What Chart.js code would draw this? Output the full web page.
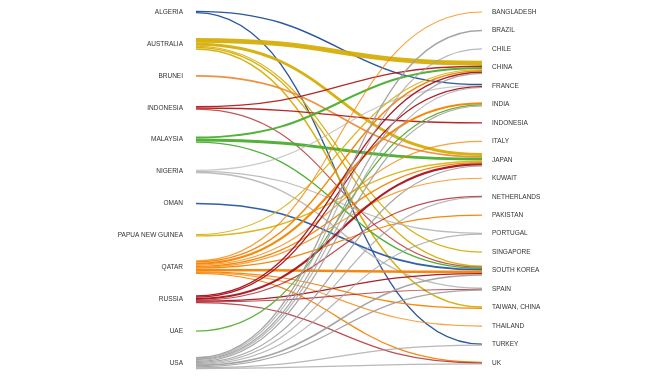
<!DOCTYPE html>
<html>
<head>
<meta charset="utf-8">
<script src="https://cdn.jsdelivr.net/npm/chart.js@4.4.1/dist/chart.umd.min.js"></script>
<style>
  html, body { margin: 0; padding: 0; background: #fff; }
  #wrap { width: 670px; height: 380px; }
</style>
</head>
<body>
<div id="wrap"><canvas id="flowChart"></canvas></div>
<script>
// exporters (left) and importers (right)
const sources = ['ALGERIA', 'AUSTRALIA', 'BRUNEI', 'INDONESIA', 'MALAYSIA', 'NIGERIA',
    'OMAN', 'PAPUA NEW GUINEA', 'QATAR', 'RUSSIA', 'UAE', 'USA'];
const targets = ['BANGLADESH', 'BRAZIL', 'CHILE', 'CHINA', 'FRANCE', 'INDIA', 'INDONESIA',
    'ITALY', 'JAPAN', 'KUWAIT', 'NETHERLANDS', 'PAKISTAN', 'PORTUGAL', 'SINGAPORE',
    'SOUTH KOREA', 'SPAIN', 'TAIWAN, CHINA', 'THAILAND', 'TURKEY', 'UK'];

// flows out of each exporter: [importer, volume]
const fromAlgeria = [['FRANCE', 1.0], ['TURKEY', 1.0]];
const fromAustralia = [['CHINA', 3.5], ['JAPAN', 2.2], ['SINGAPORE', 0.8], ['SOUTH KOREA', 1.0], ['TAIWAN, CHINA', 1.2]];
const fromBrunei = [['JAPAN', 1.2]];
const fromIndonesia = [['CHINA', 1.0], ['INDONESIA', 1.0], ['SOUTH KOREA', 0.6]];
const fromMalaysia = [['CHINA', 1.5], ['JAPAN', 2.2], ['SOUTH KOREA', 1.0]];
const fromNigeria = [['FRANCE', 0.6], ['PORTUGAL', 0.8], ['SPAIN', 1.0]];
const fromOman = [['SOUTH KOREA', 1.2]];
const fromPng = [['CHINA', 0.8], ['JAPAN', 1.0]];
const fromQatar = [['BANGLADESH', 0.4], ['CHINA', 1.1], ['INDIA', 1.6], ['ITALY', 0.6], ['JAPAN', 1.0],
    ['KUWAIT', 0.5], ['PAKISTAN', 0.8], ['SOUTH KOREA', 1.9], ['TAIWAN, CHINA', 0.8],
    ['THAILAND', 0.5], ['UK', 0.7]];
const fromRussia = [['CHINA', 1.0], ['FRANCE', 0.8], ['JAPAN', 1.6], ['NETHERLANDS', 0.5],
    ['SOUTH KOREA', 0.8], ['SPAIN', 0.5], ['UK', 0.5]];
const fromUae = [['INDIA', 0.8]];
const fromUsa = [['BRAZIL', 1.0], ['CHILE', 0.5], ['CHINA', 0.8], ['FRANCE', 0.6], ['INDIA', 0.8],
    ['JAPAN', 0.8], ['NETHERLANDS', 0.6], ['PORTUGAL', 0.5], ['SOUTH KOREA', 1.2],
    ['SPAIN', 0.8], ['TURKEY', 0.6], ['UK', 0.6]];

const flows = [fromAlgeria, fromAustralia, fromBrunei, fromIndonesia, fromMalaysia, fromNigeria,
    fromOman, fromPng, fromQatar, fromRussia, fromUae, fromUsa];

const sourceColors = ['#1f4e99', '#d6ae08', '#ee8a35', '#b31a1a', '#48ad2e', '#b9b9b9',
    '#2457a3', '#d8b418', '#f58200', '#a8121c', '#55b035', '#a0a0a0'];

const PX = 1.35; // line width per unit of volume

const flowLines = {
    id: 'flowLines',
    beforeDatasetsDraw(chart) {
        const ctx = chart.ctx;
        const xs = chart.scales.x, yl = chart.scales.yl, yr = chart.scales.yr;

        const links = [];
        flows.forEach((list, si) => {
            list.forEach(([t, v]) => links.push({ s: si, t: targets.indexOf(t), v: v }));
        });

        // stack the links on each node
        sources.forEach((_, si) => {
            const out = links.filter(l => l.s === si).sort((a, b) => a.t - b.t);
            let o = -out.reduce((a, l) => a + l.v * PX, 0) / 2;
            out.forEach(l => { l.off0 = o + l.v * PX / 2; o += l.v * PX; });
        });
        targets.forEach((_, ti) => {
            const inc = links.filter(l => l.t === ti).sort((a, b) => a.s - b.s);
            let o = -inc.reduce((a, l) => a + l.v * PX, 0) / 2;
            inc.forEach(l => { l.off1 = o + l.v * PX / 2; o += l.v * PX; });
        });

        const x0 = xs.getPixelForValue(0);
        const x1 = xs.getPixelForValue(1);
        const xm = (x0 + x1) / 2;

        ctx.save();
        ctx.lineCap = 'butt';
        links.forEach(l => {
            const y0 = yl.getPixelForValue(l.s) + l.off0;
            const y1 = yr.getPixelForValue(l.t) + l.off1;
            ctx.beginPath();
            ctx.moveTo(x0, y0);
            ctx.bezierCurveTo(xm, y0, xm, y1, x1, y1);
            ctx.strokeStyle = sourceColors[l.s];
            ctx.globalAlpha = l.v < 0.7 ? 0.75 : 0.95;
            ctx.lineWidth = Math.max(l.v * PX, 1.2);
            ctx.stroke();
        });
        ctx.restore();
    }
};

const labelFont = { family: '"Liberation Sans Narrow", "Liberation Sans", Arial, sans-serif', size: 6.5 };

// fixed axis widths, and no extra vertical padding from the tick labels
function fixAxis(width) {
    return scale => {
        scale.width = width;
        scale.paddingTop = 0;
        scale.paddingBottom = 0;
    };
}

const ctx = document.getElementById('flowChart').getContext('2d');
window.myChart = new Chart(ctx, {
    type: 'scatter',
    data: { datasets: [] },
    options: {
        responsive: true,
        maintainAspectRatio: false,
        animation: false,
        layout: { padding: { top: 12, bottom: 17, left: 0, right: 0 } },
        plugins: { legend: { display: false }, tooltip: { enabled: false } },
        scales: {
            x: { type: 'linear', min: 0, max: 1, display: false },
            yl: {
                type: 'category',
                labels: sources,
                position: 'left',
                offset: false,
                grid: { display: false, drawTicks: false },
                border: { display: false },
                ticks: { autoSkip: false, padding: 13, color: '#333', font: labelFont },
                afterFit: fixAxis(196)
            },
            yr: {
                type: 'category',
                labels: targets,
                position: 'right',
                offset: false,
                grid: { display: false, drawTicks: false },
                border: { display: false },
                ticks: { autoSkip: false, padding: 10, color: '#333', font: labelFont },
                afterFit: fixAxis(188)
            }
        }
    },
    plugins: [flowLines]
});
</script>
</body>
</html>
